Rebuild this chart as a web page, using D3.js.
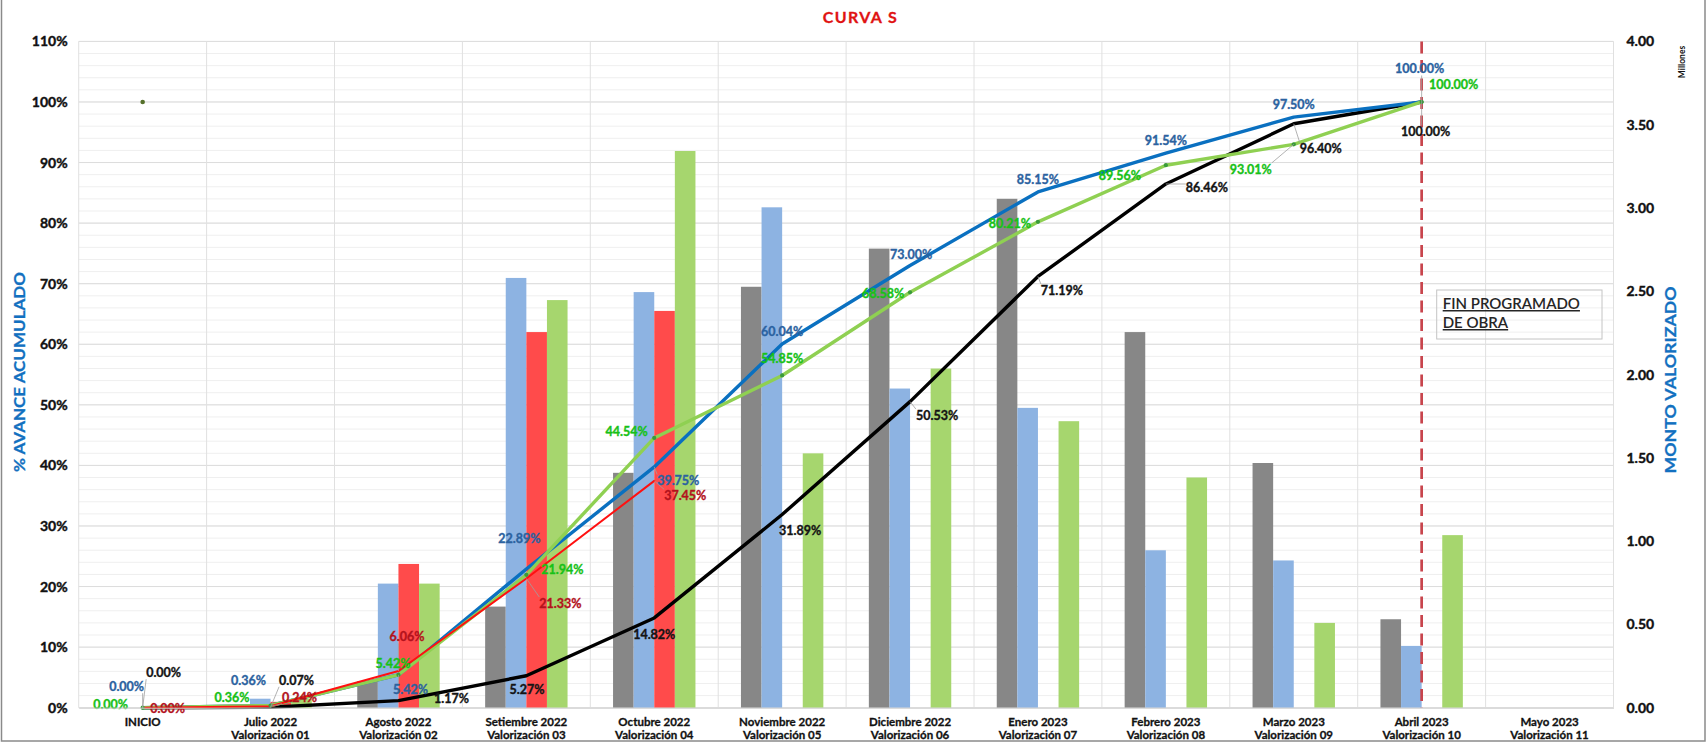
<!DOCTYPE html>
<html><head><meta charset="utf-8">
<script src="https://cdn.jsdelivr.net/npm/d3@7"></script>
<style>
body{margin:0;background:#fff;}
svg{display:block;font-family:Lato,'Open Sans',sans-serif;}
</style>
</head><body>
<svg id="c" width="1707" height="744"></svg>
<script>
// ---------------- DATA ----------------
const categoriesLine1 = ["INICIO","Julio 2022","Agosto 2022","Setiembre 2022","Octubre 2022","Noviembre 2022","Diciembre 2022","Enero 2023","Febrero 2023","Marzo 2023","Abril 2023","Mayo 2023"];
const categoriesLine2 = ["","Valorización 01","Valorización 02","Valorización 03","Valorización 04","Valorización 05","Valorización 06","Valorización 07","Valorización 08","Valorización 09","Valorización 10","Valorización 11"];

// monthly amounts (millones) - bars, right axis
const barProgramado   = [0, 0.010, 0.160, 0.607, 1.410, 2.527, 2.756, 3.055, 2.255, 1.469, 0.531, null];
const barValorizado   = [0, 0.054, 0.745, 2.580, 2.495, 3.004, 1.916, 1.800, 0.945, 0.884, 0.371, null];
const barEjecutado    = [0, 0.035, 0.863, 2.255, 2.382, null, null, null, null, null, null, null];
const barActualizado  = [0, 0.053, 0.745, 2.447, 3.342, 1.527, 2.036, 1.720, 1.382, 0.509, 1.036, null];

// cumulative % - lines, left axis
const acumProgramado  = [0, 0.0007, 0.0117, 0.0527, 0.1482, 0.3189, 0.5053, 0.7119, 0.8646, 0.9640, 1.0000, null];
const acumValorizado  = [0, 0.0036, 0.0542, 0.2289, 0.3975, 0.6004, 0.7300, 0.8515, 0.9154, 0.9750, 1.0000, null];
const acumEjecutado   = [0, 0.0024, 0.0606, 0.2133, 0.3745, null, null, null, null, null, null, null];
const acumActualizado = [0, 0.0036, 0.0542, 0.2194, 0.4454, 0.5485, 0.6858, 0.8021, 0.8956, 0.9301, 1.0000, null];
const metaPoint = [1.0]; // point at INICIO

const leftTicks  = [0,0.1,0.2,0.3,0.4,0.5,0.6,0.7,0.8,0.9,1.0,1.1];
const rightTicks = [0,0.5,1.0,1.5,2.0,2.5,3.0,3.5,4.0];
const finCategory = 10;

// ---------------- LAYOUT ----------------
const svg = d3.select("#c");
const W = 1707, H = 744;
const L = 78.7, R = 1613.5, T = 41.4, B = 707.7;

const idx = d3.range(categoriesLine1.length);
const x = d3.scaleBand().domain(idx).range([L, R]).padding(0);
const cx = i => x(i) + x.bandwidth()/2;
const yL = d3.scaleLinear().domain([0, 1.1]).range([B, T]);
const yR = d3.scaleLinear().domain([0, 4]).range([B, T]);
const barGroupW = 82.4;
const barKeys = ["prog","val","eje","act"];
const x1 = d3.scaleBand().domain(barKeys).range([(x.bandwidth()-barGroupW)/2, (x.bandwidth()+barGroupW)/2]).padding(0);

// outer border
svg.append("rect").attr("x",1.5).attr("y",-2).attr("width",W-3.5).attr("height",743).attr("fill","none").attr("stroke","#8a8a8a").attr("stroke-width",1.5);

// gridlines
const grid = svg.append("g");
grid.selectAll(".minor").data(d3.range(0, 56).map(k => k*0.02)).join("line")
  .attr("x1",L).attr("x2",R).attr("y1",d=>yL(d)).attr("y2",d=>yL(d))
  .attr("stroke","#efefef").attr("stroke-width",1);
grid.selectAll(".major").data(leftTicks).join("line")
  .attr("x1",L).attr("x2",R).attr("y1",d=>yL(d)).attr("y2",d=>yL(d))
  .attr("stroke","#dcdcdc").attr("stroke-width",1);
grid.selectAll(".vert").data(d3.range(idx.length+1)).join("line")
  .attr("x1",d=>L + d*x.bandwidth()).attr("x2",d=>L + d*x.bandwidth())
  .attr("y1",T).attr("y2",B).attr("stroke","#e0e0e0").attr("stroke-width",1);

// bars
const barSeries = [
  {key:"prog", data:barProgramado, color:"#878787"},
  {key:"val",  data:barValorizado, color:"#8db3e2"},
  {key:"eje",  data:barEjecutado,  color:"#ff4b4b"},
  {key:"act",  data:barActualizado,color:"#a6d66e"}
];
const gb = svg.append("g");
barSeries.forEach(s => {
  gb.selectAll(null).data(idx.filter(i => s.data[i] != null && s.data[i] > 0)).join("rect")
    .attr("x", i => x(i) + x1(s.key))
    .attr("width", x1.bandwidth())
    .attr("y", i => yR(s.data[i]))
    .attr("height", i => B - yR(s.data[i]))
    .attr("fill", s.color);
});

// dashed fin line
svg.append("line").attr("x1",cx(finCategory)).attr("x2",cx(finCategory)).attr("y1",T).attr("y2",B)
  .attr("stroke","#c8454d").attr("stroke-width",2.7).attr("stroke-dasharray","12,6.5");

// lines
const lineGen = d3.line().defined(d => d.v != null).x(d => cx(d.i)).y(d => yL(d.v));
const toPts = arr => arr.map((v,i)=>({i, v}));
const lineSeries = [
  {key:"negro", data:acumProgramado,  color:"#000000", w:3.4, label:"#141414"},
  {key:"azul",  data:acumValorizado,  color:"#0a70c0", w:3.4, label:"#2b62a0"},
  {key:"verde", data:acumActualizado, color:"#8fd052", w:3.4, label:"#17c117"},
  {key:"rojo",  data:acumEjecutado,   color:"#ff1010", w:2.0, label:"#b3121c"}
];
const gl = svg.append("g");
lineSeries.forEach(s => {
  gl.append("path").datum(toPts(s.data)).attr("d", lineGen)
    .attr("fill","none").attr("stroke", s.color).attr("stroke-width", s.w)
    .attr("stroke-linejoin","round").attr("stroke-linecap","round");
});
// markers on green series
gl.selectAll(".mk").data(toPts(acumActualizado).filter(d=>d.v!=null)).join("circle")
  .attr("cx", d=>cx(d.i)).attr("cy", d=>yL(d.v)).attr("r", 2.1).attr("fill","#3a9a3a");
gl.selectAll(".meta").data(metaPoint).join("circle")
  .attr("cx", cx(0)).attr("cy", d=>yL(d)).attr("r", 2.3).attr("fill","#55702a");

// data labels
const labelOffsets = {
  azul:  [[-16,-21],[-22,-25.5],[12,15],[-7,-31],[24,14],[0,-13],[1,-11.5],[0,-12],[0,-12.6],[0,-13],[-2,-33]],
  verde: [[-32,-3.4],[-38.6,-7.8],[-5.5,-10.9],[36,-5.5],[-27.6,-6.2],[0,-17],[-27,1],[-28,2],[-46,10],[-43,25],[32,-17]],
  negro: [[21,-35],[26,-27],[53,-2],[0.6,14],[0,17],[18,16],[27,14],[24,14],[41,4],[27,25],[4,30]],
  rojo:  [[25,0.6],[29,-9],[8.5,-34],[34,25],[31,15]]
};
const leaders = {negro:[0,1,6,7,8,9,10], azul:[0,2,4,10], rojo:[1,2,3,4], verde:[9]};
const fmt = d3.format(".2%");
const gLead = svg.append("g");
const gLab = svg.append("g").attr("font-weight","bold").attr("font-size","12.5px");
lineSeries.forEach(s => {
  const offs = labelOffsets[s.key];
  s.data.forEach((v,i) => {
    if (v == null) return;
    const px = cx(i), py = yL(v);
    const lx = px + offs[i][0], ly = py + offs[i][1];
    const t = gLab.append("text").attr("x",lx).attr("y",ly).attr("text-anchor","middle")
      .attr("dominant-baseline","central").attr("fill", s.label)
      .attr("stroke", s.label).attr("stroke-width",0.35).text(fmt(v));
    if (leaders[s.key].includes(i)) {
      const bb = t.node().getBBox();
      const ex = Math.max(bb.x, Math.min(px, bb.x+bb.width));
      const ey = Math.max(bb.y+1, Math.min(py, bb.y+bb.height-1));
      gLead.append("line").attr("x1",px).attr("y1",py).attr("x2",ex).attr("y2",ey)
        .attr("stroke","#a0a0a0").attr("stroke-width",0.8);
    }
  });
});

// axes
const axL = svg.append("g").attr("transform",`translate(${L},0)`)
  .call(d3.axisLeft(yL).tickValues(leftTicks).tickFormat(d3.format(".0%")).tickSize(0).tickPadding(11));
axL.select(".domain").remove();
axL.selectAll("text").attr("font-size","14px").attr("font-weight","bold").attr("fill","#111")
  .attr("stroke","#111").attr("stroke-width",0.4).attr("font-family","Lato");

const axR = svg.append("g").attr("transform",`translate(${R},0)`)
  .call(d3.axisRight(yR).tickValues(rightTicks).tickFormat(d3.format(".2f")).tickSize(0).tickPadding(13));
axR.select(".domain").remove();
axR.selectAll("text").attr("font-size","14px").attr("font-weight","bold").attr("fill","#111")
  .attr("stroke","#111").attr("stroke-width",0.4).attr("font-family","Lato");

const axB = svg.append("g").attr("transform",`translate(0,${B})`)
  .call(d3.axisBottom(x).tickSize(0).tickFormat(i => categoriesLine1[i]).tickPadding(0));
axB.select(".domain").attr("stroke","#d0d0d0");
axB.selectAll("text").each(function(i){
  const t = d3.select(this);
  t.text(null).attr("font-size","11.5px").attr("font-weight","bold").attr("fill","#111")
   .attr("stroke","#111").attr("stroke-width",0.3).attr("font-family","Lato").attr("dy",null).attr("y",0);
  t.append("tspan").attr("x",0).attr("y",18).text(categoriesLine1[i]);
  t.append("tspan").attr("x",0).attr("y",31).text(categoriesLine2[i]);
});

// titles
svg.append("text").attr("x",859.7).attr("y",16).attr("text-anchor","middle").attr("dominant-baseline","central")
  .attr("font-size","16px").attr("font-weight","bold").attr("fill","#e01212").attr("stroke","#e01212").attr("stroke-width",0.3)
  .attr("textLength",74).attr("lengthAdjust","spacing").text("CURVA S");
svg.append("text").attr("transform","translate(18.5,372) rotate(-90)").attr("text-anchor","middle").attr("dominant-baseline","central")
  .attr("font-size","16px").attr("font-weight","bold").attr("fill","#1270c0").attr("stroke","#1270c0").attr("stroke-width",0.3)
  .attr("textLength",200).attr("lengthAdjust","spacingAndGlyphs")
  .text("% AVANCE ACUMULADO");
svg.append("text").attr("transform","translate(1669,380) rotate(-90)").attr("text-anchor","middle").attr("dominant-baseline","central")
  .attr("font-size","16px").attr("font-weight","bold").attr("fill","#1270c0").attr("stroke","#1270c0").attr("stroke-width",0.3)
  .attr("textLength",187).attr("lengthAdjust","spacingAndGlyphs")
  .text("MONTO VALORIZADO");
svg.append("text").attr("transform","translate(1682,62) rotate(-90)").attr("text-anchor","middle").attr("dominant-baseline","central")
  .attr("font-size","8.5px").attr("font-weight","bold").attr("fill","#111").text("Millones");

// annotation box
svg.append("rect").attr("x",1436.7).attr("y",290).attr("width",165.3).attr("height",49)
  .attr("fill","none").attr("stroke","#c4c4c4").attr("stroke-width",1);
const ann = svg.append("text").attr("font-size","15px").attr("font-weight","600").attr("fill","#262626")
  .attr("text-decoration","underline");
ann.append("tspan").attr("x",1442.7).attr("y",309).text("FIN PROGRAMADO");
ann.append("tspan").attr("x",1442.7).attr("y",328).text("DE OBRA");
</script>
</body></html>
